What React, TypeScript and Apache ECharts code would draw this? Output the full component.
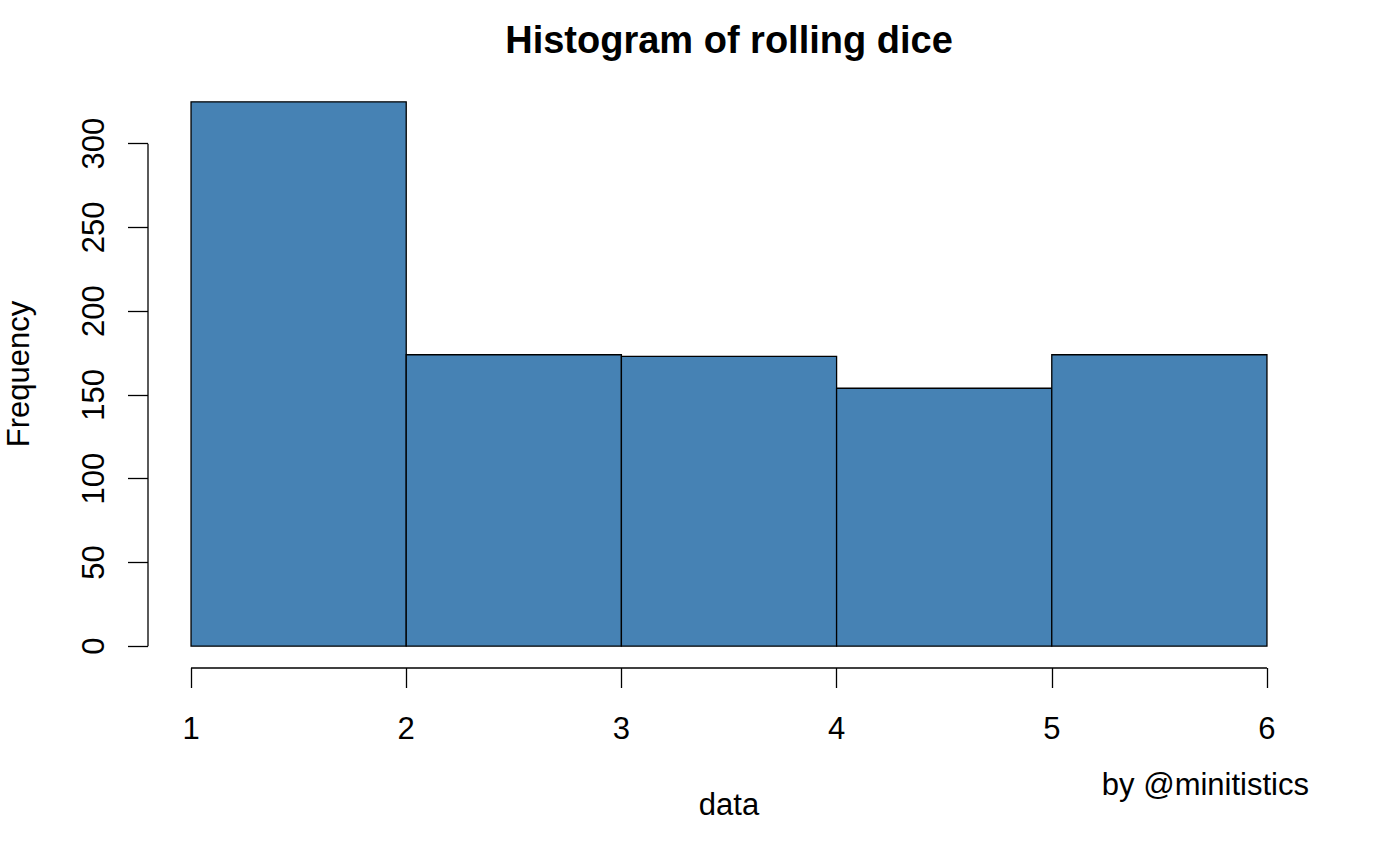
import React, { useEffect, useRef } from "react";
import * as echarts from "echarts";

const breaks = [1, 2, 3, 4, 5, 6];
const counts = [325, 174, 173, 154, 174];
const xTicks = [1, 2, 3, 4, 5, 6];
const yTicks = [0, 50, 100, 150, 200, 250, 300];
const titleText = "Histogram of rolling dice";
const xLabel = "data";
const yLabel = "Frequency";
const credit = "by @minitistics";

const FONT = "'Liberation Sans', Arial, Helvetica, sans-serif";

export default function App() {
  const ref = useRef<HTMLDivElement>(null);

  useEffect(() => {
    if (!ref.current) return;
    const chart = echarts.init(ref.current, null, { renderer: "svg" });

    const xRange = breaks[breaks.length - 1] - breaks[0];
    const xMin = breaks[0] - 0.04 * xRange;
    const xMax = breaks[breaks.length - 1] + 0.04 * xRange;
    const yTop = Math.max(...counts);
    const yMin = -0.04 * yTop;
    const yMax = yTop * 1.04;

    const barData = counts.map((c, i) => [breaks[i], breaks[i + 1], c]);

    const option: any = {
      animation: false,
      backgroundColor: "#ffffff",
      textStyle: { fontFamily: FONT, color: "#000" },
      grid: { left: 148, right: 68, top: 80, bottom: 175, containLabel: false },
      xAxis: {
        type: "value",
        min: xMin,
        max: xMax,
        axisLine: { show: false, onZero: false },
        splitLine: { show: false },
        axisTick: {
          show: true,
          customValues: xTicks,
          length: 20,
          lineStyle: { color: "#000", width: 1.3 },
        },
        axisLabel: {
          customValues: xTicks,
          fontSize: 31,
          color: "#000",
          fontFamily: FONT,
          margin: 45,
        },
      },
      yAxis: {
        type: "value",
        min: yMin,
        max: yMax,
        axisLine: { show: false, onZero: false },
        splitLine: { show: false },
        axisTick: {
          show: true,
          customValues: yTicks,
          length: 20,
          lineStyle: { color: "#000", width: 1.3 },
        },
        axisLabel: {
          customValues: yTicks,
          fontSize: 31,
          color: "#000",
          fontFamily: FONT,
          rotate: 90,
          margin: 39,
        },
      },
      graphic: [
        {
          type: "text",
          x: 729,
          y: 40,
          style: {
            text: titleText,
            font: `bold 38px ${FONT}`,
            fill: "#000",
            textAlign: "center",
            textVerticalAlign: "middle",
          },
        },
        {
          type: "text",
          x: 729,
          y: 804,
          style: {
            text: xLabel,
            font: `31px ${FONT}`,
            fill: "#000",
            textAlign: "center",
            textVerticalAlign: "middle",
          },
        },
        {
          type: "text",
          x: 1309,
          y: 784,
          style: {
            text: credit,
            font: `31px ${FONT}`,
            fill: "#000",
            textAlign: "right",
            textVerticalAlign: "middle",
          },
        },
        {
          type: "text",
          x: 18,
          y: 374,
          rotation: Math.PI / 2,
          style: {
            text: yLabel,
            font: `31px ${FONT}`,
            fill: "#000",
            textAlign: "center",
            textVerticalAlign: "middle",
          },
        },
      ],
      series: [
        {
          type: "custom",
          name: "bars",
          coordinateSystem: "cartesian2d",
          encode: { x: [0, 1], y: 2 },
          data: barData,
          renderItem: (params: any, api: any) => {
            const p0 = api.coord([api.value(0), api.value(2)]);
            const p1 = api.coord([api.value(1), 0]);
            return {
              type: "rect",
              shape: {
                x: p0[0],
                y: p0[1],
                width: p1[0] - p0[0],
                height: p1[1] - p0[1],
              },
              style: { fill: "#4682B4", stroke: "#000", lineWidth: 1.3 },
            };
          },
        },
        {
          type: "custom",
          name: "axes",
          coordinateSystem: "cartesian2d",
          data: [[xTicks[0], yTicks[0]]],
          silent: true,
          renderItem: (params: any, api: any) => {
            const xa0 = api.coord([xTicks[0], yMin]);
            const xa1 = api.coord([xTicks[xTicks.length - 1], yMin]);
            const ya0 = api.coord([xMin, yTicks[0]]);
            const ya1 = api.coord([xMin, yTicks[yTicks.length - 1]]);
            return {
              type: "group",
              children: [
                {
                  type: "line",
                  shape: { x1: xa0[0], y1: xa0[1], x2: xa1[0], y2: xa1[1] },
                  style: { stroke: "#000", lineWidth: 1.3 },
                },
                {
                  type: "line",
                  shape: { x1: ya0[0], y1: ya0[1], x2: ya1[0], y2: ya1[1] },
                  style: { stroke: "#000", lineWidth: 1.3 },
                },
              ],
            };
          },
        },
      ],
    };

    chart.setOption(option);
    return () => {
      chart.dispose();
    };
  }, []);

  return (
    <div
      ref={ref}
      style={{
        position: "absolute",
        left: 0,
        top: 0,
        width: 1378,
        height: 843,
        background: "#fff",
      }}
    />
  );
}
